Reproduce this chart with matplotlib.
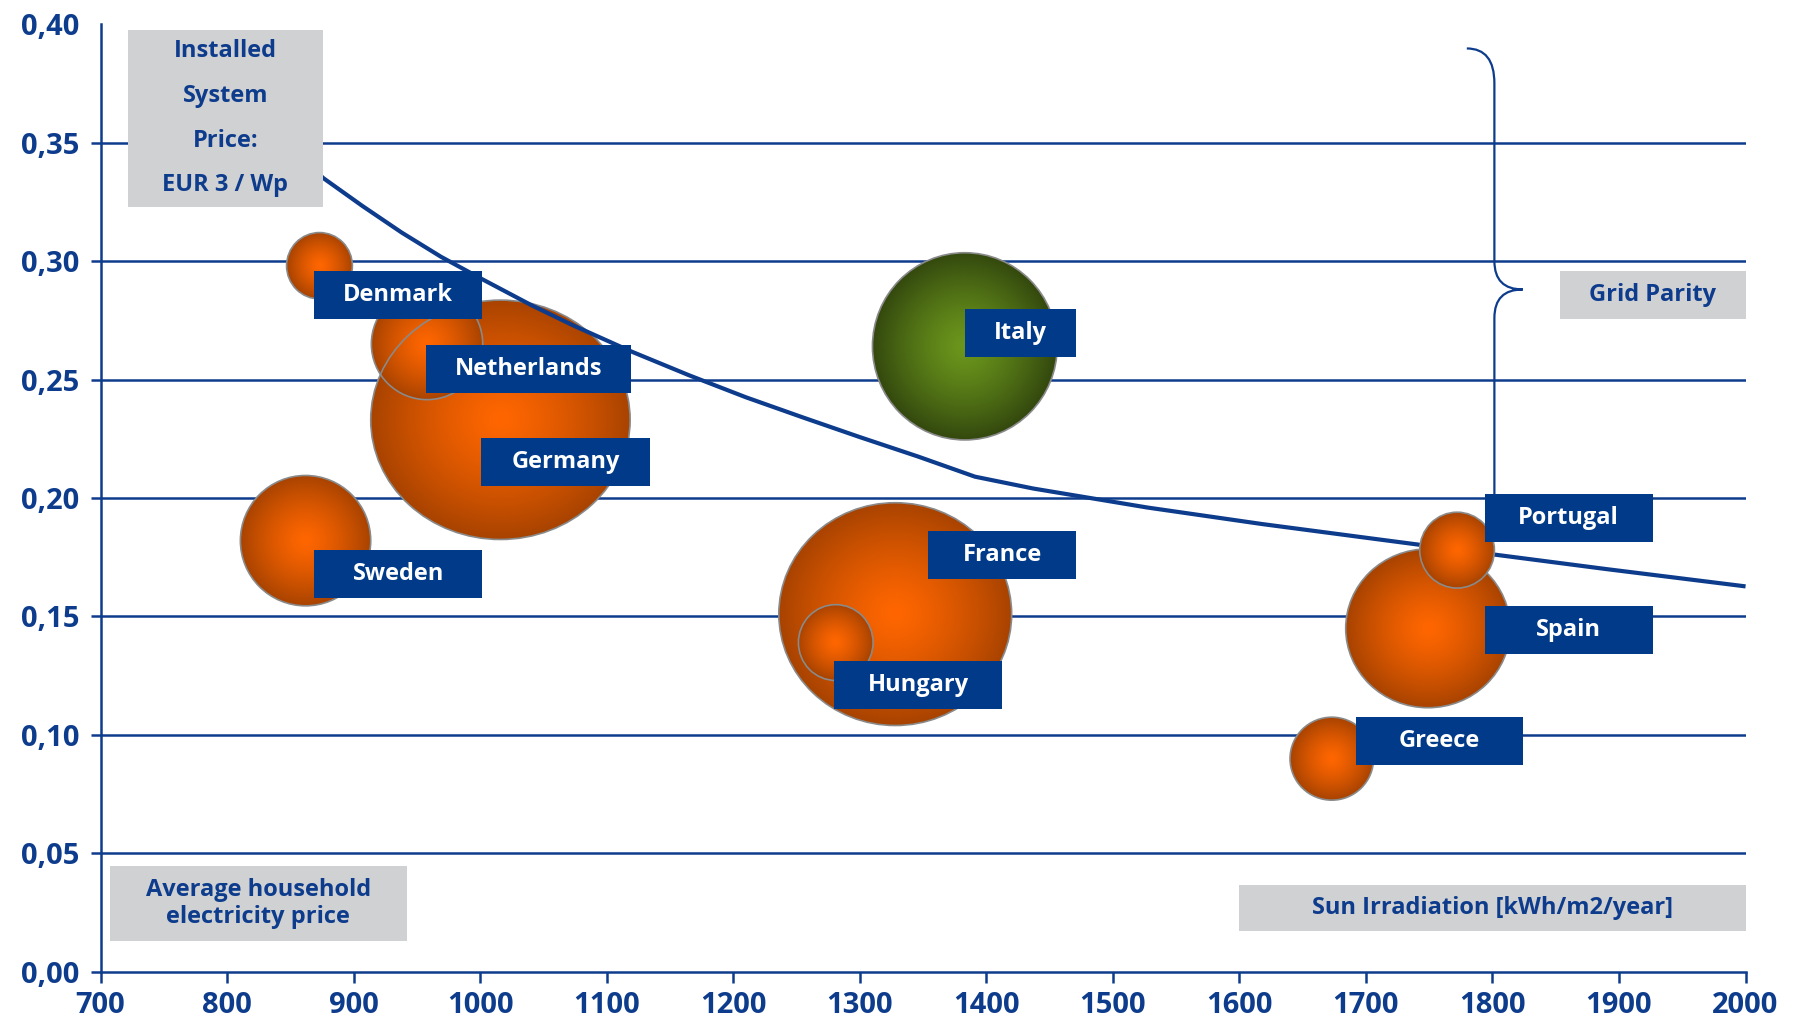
import numpy as np
import matplotlib
matplotlib.use("Agg")
import matplotlib.pyplot as plt
from matplotlib.patches import Ellipse, Rectangle, PathPatch
from matplotlib.path import Path
from matplotlib.colors import to_rgb

# sun irradiation (kWh/m2/year) vs. average household electricity price (EUR/kWh)
countries = ["Germany", "Netherlands", "Denmark", "Sweden", "Italy",
             "France", "Hungary", "Spain", "Portugal", "Greece"]
irradiation = [1016, 958, 873, 862, 1383, 1328, 1281, 1749, 1772, 1673]
price = [0.233, 0.265, 0.298, 0.182, 0.264, 0.151, 0.139, 0.145, 0.178, 0.090]
# bubble extent, in axis units (width in kWh/m2/year, height in EUR/kWh)
bubble_w = [205, 88, 52, 103, 146, 184, 59, 130, 59, 66]
bubble_h = [0.101, 0.047, 0.028, 0.055, 0.079, 0.094, 0.032, 0.067, 0.032, 0.035]

# generation cost curve for an installed system price of EUR 3 / Wp
curve_x = [870, 876, 907, 938, 969, 1001, 1040, 1074, 1120, 1165, 1210, 1255,
           1300, 1346, 1391, 1437, 1527, 1618, 1709, 1799, 1890, 2000]
curve_y = [0.338, 0.335, 0.3232, 0.312, 0.3018, 0.2925, 0.2815, 0.2727,
           0.2617, 0.2518, 0.2425, 0.234, 0.2257, 0.2175, 0.209, 0.204,
           0.196, 0.189, 0.1826, 0.1763, 0.170, 0.1627]

x_ticks = list(range(700, 2001, 100))
y_ticks = [0.00, 0.05, 0.10, 0.15, 0.20, 0.25, 0.30, 0.35, 0.40]
y_ticklabels = ["0,00", "0,05", "0,10", "0,15", "0,20", "0,25", "0,30", "0,35", "0,40"]

navy = "#0e3c8c"
tag_blue = "#003a88"
grey = "#d0d1d3"

# name tags: left edge, top edge, width (axis units)
tag_pos = {
    "Denmark": (869, 0.2958, 132.5),
    "Netherlands": (957, 0.2646, 162),
    "Germany": (1001, 0.2253, 133),
    "Sweden": (869, 0.1781, 132.5),
    "Italy": (1383, 0.2797, 88),
    "France": (1354, 0.1861, 117),
    "Hungary": (1280, 0.1312, 132.5),
    "Portugal": (1794, 0.2017, 132.5),
    "Spain": (1794, 0.1544, 132.5),
    "Greece": (1692, 0.1076, 132.5),
}
tag_h = 0.0201
above_curve = {"Portugal"}

plt.rcParams['font.family'] = ['Open Sans', 'DejaVu Sans']
plt.rcParams['font.weight'] = 'bold'

fig = plt.figure(figsize=(17.99, 10.23), dpi=100)
ax = fig.add_axes([0.0559, 0.0499, 0.9144, 0.9266])
ax.set_xlim(700, 2000)
ax.set_ylim(0, 0.40)


def shaded_ball(c_in, c_out, n=300):
    g = np.linspace(-1, 1, n)
    xx, yy = np.meshgrid(g, g)
    t = np.clip(np.sqrt(xx ** 2 + yy ** 2), 0, 1) ** 1.3
    a = np.array(to_rgb(c_in))
    b = np.array(to_rgb(c_out))
    return a + (b - a) * t[..., None]


orange_ball = shaded_ball("#ff6600", "#a84300")
green_ball = shaded_ball("#6b961c", "#33480e")

for name, x, y, w, h in zip(countries, irradiation, price, bubble_w, bubble_h):
    z = 4 if name in above_curve else 2
    img = green_ball if name == "Italy" else orange_ball
    ell = Ellipse((x, y), w, h, facecolor="none", edgecolor="#8a8a8a",
                  lw=1.2, zorder=z + 0.1)
    ax.add_patch(ell)
    im = ax.imshow(img, extent=[x - w / 2, x + w / 2, y - h / 2, y + h / 2],
                   origin="lower", aspect="auto", zorder=z,
                   interpolation="bilinear")
    im.set_clip_path(ell)

ax.plot(curve_x, curve_y, color=navy, lw=3, zorder=3, solid_capstyle="butt")

# horizontal grid
ax.hlines(y_ticks[1:-1], 700, 2000, color=navy, lw=1.8, zorder=1)

# name tags
for name in countries:
    left, top, w = tag_pos[name]
    ax.add_patch(Rectangle((left, top - tag_h), w, tag_h, facecolor=tag_blue,
                           edgecolor="none", zorder=5))
    ax.text(left + w / 2, top - tag_h / 2, name, color="white", fontsize=17,
            ha="center", va="center", zorder=6)


def grey_box(x0, x1, y0, y1, text, ls=1.2):
    ax.add_patch(Rectangle((x0, y0), x1 - x0, y1 - y0, facecolor=grey,
                           edgecolor="none", zorder=5))
    ax.text((x0 + x1) / 2, (y0 + y1) / 2, text, color=navy, fontsize=17,
            ha="center", va="center", linespacing=ls, zorder=6)


grey_box(721.5, 875.6, 0.3229, 0.3975, "Installed\nSystem\nPrice:\nEUR 3 / Wp", ls=2.15)
grey_box(1853.4, 2000, 0.2757, 0.2958, "Grid Parity")
grey_box(707.4, 942.1, 0.0131, 0.0447, "Average household\nelectricity price", ls=1.2)
grey_box(1600, 2000, 0.0171, 0.0369, "Sun Irradiation [kWh/m2/year]")

# brace marking the grid parity region
bx, tip = 1801.5, 1823.9
verts = [(1779.7, 0.3897), (bx, 0.3897), (bx, 0.375), (bx, 0.300),
         (bx, 0.288), (tip, 0.288), (bx, 0.288), (bx, 0.276), (bx, 0.19)]
codes = [Path.MOVETO, Path.CURVE3, Path.CURVE3, Path.LINETO,
         Path.CURVE3, Path.CURVE3, Path.CURVE3, Path.CURVE3, Path.LINETO]
ax.add_patch(PathPatch(Path(verts, codes), facecolor="none", edgecolor=navy,
                       lw=1.6, zorder=1.5))

# axes styling
for side in ["top", "right"]:
    ax.spines[side].set_visible(False)
for side in ["left", "bottom"]:
    ax.spines[side].set_color(navy)
    ax.spines[side].set_linewidth(1.8)

ax.set_xticks(x_ticks)
ax.set_xticklabels([str(v) for v in x_ticks])
ax.set_yticks(y_ticks)
ax.set_yticklabels(y_ticklabels)
ax.tick_params(axis="x", direction="out", length=8, width=1.8, colors=navy,
               labelsize=21, pad=6)
ax.tick_params(axis="y", direction="out", length=7, width=1.8, colors=navy,
               labelsize=21, pad=8)
ax.yaxis.get_major_ticks()[-1].tick1line.set_visible(False)

fig.savefig("out.png", dpi=100)
